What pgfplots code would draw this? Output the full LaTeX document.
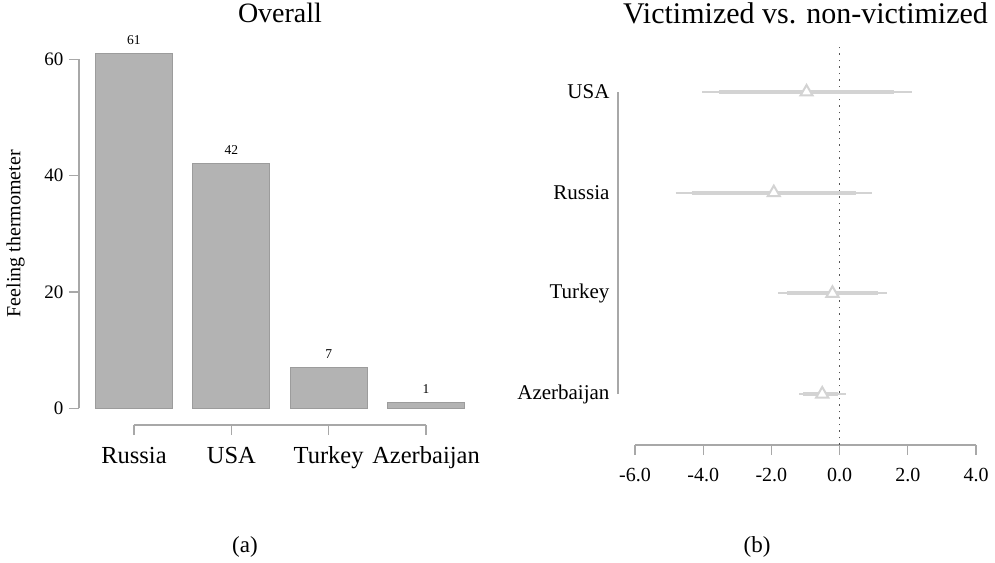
\documentclass[border=0pt]{standalone}
\usepackage{fontspec}
\setmainfont{Liberation Serif}
\usepackage{pgfplots}
\pgfplotsset{compat=1.18}

\definecolor{barfill}{HTML}{B3B3B3}
\definecolor{baredge}{HTML}{9C9C9C}
\definecolor{axgray}{HTML}{A8A8A8}
\definecolor{cigray}{HTML}{D3D3D3}
\definecolor{dotgray}{HTML}{555555}

\newcommand{\fs}[1]{\fontsize{#1pt}{#1pt}\selectfont}

\begin{document}
\begin{tikzpicture}
\path[use as bounding box] (0,0) rectangle (995pt,562pt);

% (a) overall feeling thermometer
\begin{axis}[
  at={(134pt,153.7pt)}, anchor=south west,
  scale only axis, width=292pt, height=349pt,
  xmin=0, xmax=3, ymin=0, ymax=60,
  enlargelimits=false, clip=false,
  axis x line=bottom, axis y line=left,
  axis x line shift=16.7pt, axis y line shift=55pt,
  axis line style={axgray, line width=1.3pt, -},
  every tick/.style={axgray, line width=1.3pt},
  tick align=outside, major tick length=10pt,
  xtick={0,1,2,3},
  xticklabels={Russia, USA, Turkey, Azerbaijan},
  xticklabel style={font=\fs{24.5}, anchor=base, yshift=-28pt},
  ytick={0,20,40,60},
  yticklabel style={font=\fs{19}, xshift=-2pt},
  /pgf/number format/assume math mode=true,
  ylabel={Feeling thermometer},
  ylabel style={font=\fs{20}, at={(rel axis cs:0,0.5)}, anchor=center, yshift=118.5pt},
  title={Overall},
  title style={font=\fs{28}, at={(0.5,1)}, anchor=base, yshift=31pt},
  xlabel={(a)},
  xlabel style={font=\fs{23}, at={(rel axis cs:0.38,0)}, anchor=center, yshift=-138.7pt},
  ybar, bar width=76.7pt,
  nodes near coords,
  nodes near coords style={font=\fs{13.5}, black, anchor=base, yshift=9pt},
]
\addplot[fill=barfill, draw=baredge, line width=1pt] coordinates {
  (0,61) (1,42) (2,7) (3,1)
};
\end{axis}

% (b) victimized vs. non-victimized
\begin{axis}[
  at={(635pt,168pt)}, anchor=south west,
  scale only axis, width=341pt, height=302pt,
  xmin=-6, xmax=4, ymin=1, ymax=4,
  enlargelimits=false, clip=false,
  axis x line=bottom, axis y line=left,
  axis x line shift=51pt, axis y line shift=17pt,
  axis line style={axgray, line width=1.3pt, -},
  every tick/.style={axgray, line width=1.3pt},
  tick align=outside, major tick length=10pt,
  xtick={-6,-4,-2,0,2,4},
  xticklabels={-6.0,-4.0,-2.0,0.0,2.0,4.0},
  xticklabel style={font=\fs{20}, yshift=-10pt},
  ytick={1,2,3,4},
  yticklabels={Azerbaijan, Turkey, Russia, USA},
  ytick style={draw=none},
  yticklabel style={font=\fs{21}, xshift=5pt},
  title={Victimized vs. non-victimized},
  title style={font=\fs{30}, at={(0.5,1)}, anchor=base, yshift=62pt},
  xlabel={(b)},
  xlabel style={font=\fs{23}, at={(rel axis cs:0.358,0)}, anchor=center, yshift=-153pt},
]
% zero line
\addplot[dotgray, line width=1.3pt, dash pattern=on 1.5pt off 5pt] coordinates {(0,0.494) (0,4.487)};
% outer intervals
\addplot[cigray, line width=2pt] coordinates {(-4.03,4) (2.11,4)};
\addplot[cigray, line width=2pt] coordinates {(-4.81,3) (0.94,3)};
\addplot[cigray, line width=2pt] coordinates {(-1.80,2) (1.38,2)};
\addplot[cigray, line width=2pt] coordinates {(-1.18,1) (0.19,1)};
% inner intervals
\addplot[cigray, line width=4pt] coordinates {(-3.54,4) (1.60,4)};
\addplot[cigray, line width=4pt] coordinates {(-4.34,3) (0.47,3)};
\addplot[cigray, line width=4pt] coordinates {(-1.53,2) (1.12,2)};
\addplot[cigray, line width=4pt] coordinates {(-1.06,1) (-0.05,1)};
% estimates
\addplot[only marks, mark=triangle*, mark size=7pt,
  mark options={draw=cigray, fill=white, line width=2pt}]
  coordinates {(-0.97,4) (-1.93,3) (-0.21,2) (-0.51,1)};
\end{axis}
\end{tikzpicture}
\end{document}
